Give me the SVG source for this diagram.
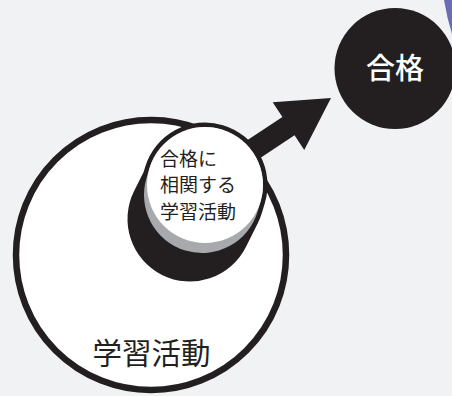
<svg xmlns="http://www.w3.org/2000/svg" width="452" height="396" viewBox="0 0 452 396">
  <style>
    .ink { fill: #231f20; }
    .jp { font-family: "Noto Sans CJK JP", "Noto Sans", sans-serif; }
    .cap { fill: none; stroke-linecap: round; stroke-linejoin: round; }
  </style>
  <rect x="0" y="0" width="452" height="396" fill="#f1f2f4"/>
  <path d="M444,0 Q447,18 452,34 L452,0 Z" fill="#6b6db3"/>

  <g id="node-goal">
    <circle cx="395" cy="68.5" r="60.5" class="ink"/>
    <text x="395" y="79" text-anchor="middle" font-size="29" font-weight="500" fill="#ffffff" class="jp">合格</text>
  </g>

  <g id="node-activities">
    <circle cx="151" cy="255" r="135" fill="#ffffff" stroke="#231f20" stroke-width="6.5"/>
    <text x="151.5" y="364" text-anchor="middle" font-size="29.5" class="jp ink">学習活動</text>
  </g>

  <g id="connectors">
    <polygon transform="translate(331 98) rotate(-33.5)" class="ink" points="0,0 -51,-28.6 -51,-11 -150,-11 -150,11 -51,11 -51,28.6"/>
  </g>

  <g id="node-correlated">
    <polyline class="cap" points="205,185 202,195 190,219" stroke="#231f20" stroke-width="125"/>
    <line class="cap" x1="205" y1="185" x2="202" y2="195" stroke="#a7a9ac" stroke-width="116"/>
    <circle cx="205" cy="185" r="58" fill="#ffffff"/>
    <g class="jp ink" font-size="19">
      <text x="160" y="165.5">合格に</text>
      <text x="160" y="192">相関する</text>
      <text x="160" y="218.5">学習活動</text>
    </g>
  </g>
</svg>
